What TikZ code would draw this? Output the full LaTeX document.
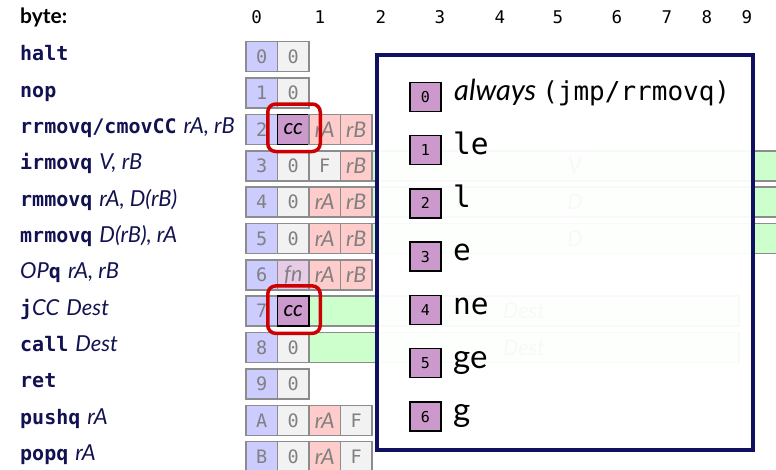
\documentclass[tikz,border=0pt]{standalone}
\usepackage{fontspec}
\setmainfont{Lato}
\setmonofont{DejaVu Sans Mono}
\definecolor{navy}{RGB}{18,18,82}
\definecolor{popnavy}{RGB}{16,16,96}
\definecolor{cblue}{RGB}{204,204,255}
\definecolor{cgray}{RGB}{242,242,242}
\definecolor{cpink}{RGB}{255,204,204}
\definecolor{cgreen}{RGB}{204,255,204}
\definecolor{cpurple}{RGB}{204,153,204}
\definecolor{cfn}{RGB}{230,204,230}
\definecolor{cborder}{RGB}{140,140,140}
\definecolor{ctext}{RGB}{128,128,128}
\definecolor{hred}{RGB}{204,0,0}
\tikzset{
 cell/.style={draw=cborder, line width=1.5pt, minimum width=31.5pt, minimum height=30pt, inner sep=0pt, outer sep=0pt, text=ctext, font=\fontsize{18.5}{22}\selectfont\ttfamily},
 cellit/.style={cell, font=\fontsize{21.5}{25}\selectfont\itshape},
 nb/.style={cell, fill=cblue},
 ng/.style={cell, fill=cgray},
 npk/.style={cellit, fill=cpink},
 ncc/.style={cellit, fill=cpurple, draw=black, text=black},
 nfn/.style={cellit, fill=cfn},
 field/.style={draw=cborder, line width=1.5pt, fill=cgreen, minimum height=30pt, inner sep=0pt, outer sep=0pt, text=ctext, font=\fontsize{21.5}{25}\selectfont\itshape},
 lbl/.style={anchor=base west, inner sep=0pt, text=navy, font=\fontsize{20}{24}\selectfont},
 hdr/.style={anchor=base, inner sep=0pt, font=\fontsize{17.5}{20}\selectfont\ttfamily},
 hl/.style={draw=hred, line width=3.5pt, rounded corners=8pt, inner sep=0pt, minimum width=52.5pt, minimum height=47.5pt},
 popbox/.style={draw=black, line width=1.5pt, fill=cpurple, minimum width=31pt, minimum height=29pt, inner sep=0pt, font=\fontsize{15}{17}\selectfont\ttfamily},
 poptxt/.style={anchor=base west, inner sep=0pt, text=black},
 popup/.style={draw=popnavy, line width=4pt, fill=white, fill opacity=0.95, minimum width=376pt, minimum height=395pt, inner sep=0pt, anchor=north west},
}
\newcommand{\mb}[1]{{\ttfamily\bfseries #1}}
\newcommand{\ops}[1]{{\fontsize{22}{25}\selectfont\itshape #1}}
\begin{document}
\begin{tikzpicture}[x=1pt,y=-1pt]
\useasboundingbox (0,0) rectangle (776,469);
% header
\node[anchor=base west, inner sep=0pt, font=\fontsize{21}{24}\selectfont\bfseries] (byte) at (20,23) {byte:};
\node[hdr] (b0) at (256.7,23.5) {0};
\node[hdr] (b1) at (320,23.5) {1};
\node[hdr] (b2) at (381,23.5) {2};
\node[hdr] (b3) at (440,23.5) {3};
\node[hdr] (b4) at (500,23.5) {4};
\node[hdr] (b5) at (558,23.5) {5};
\node[hdr] (b6) at (617,23.5) {6};
\node[hdr] (b7) at (667,23.5) {7};
\node[hdr] (b8) at (707,23.5) {8};
\node[hdr] (b9) at (747,23.5) {9};
% labels
\node[lbl] (l0) at (20,60.7) {\mb{halt}};
\node[lbl] (l1) at (20,97.1) {\mb{nop}};
\node[lbl] (l2) at (20,133.4) {\mb{rrmovq/cmovCC}\hspace{7pt}\ops{rA, rB}};
\node[lbl] (l3) at (20,169.8) {\mb{irmovq}\hspace{7pt}\ops{V, rB}};
\node[lbl] (l4) at (20,206.1) {\mb{rmmovq}\hspace{7pt}\ops{rA, D(rB)}};
\node[lbl] (l5) at (20,242.5) {\mb{mrmovq}\hspace{7pt}\ops{D(rB), rA}};
\node[lbl] (l6) at (20,278.9) {\ops{OP}\mb{q}\hspace{7pt}\ops{rA, rB}};
\node[lbl] (l7) at (20,315.2) {\mb{j}\ops{CC}\hspace{7pt}\ops{Dest}};
\node[lbl] (l8) at (20,351.6) {\mb{call}\hspace{7pt}\ops{Dest}};
\node[lbl] (l9) at (20,387.9) {\mb{ret}};
\node[lbl] (l10) at (20,424.3) {\mb{pushq}\hspace{7pt}\ops{rA}};
\node[lbl] (l11) at (20,460.7) {\mb{popq}\hspace{7pt}\ops{rA}};
% fields
\node[field, minimum width=406pt] (f3) at (575,165.8) {V};
\node[field, minimum width=406pt] (f4) at (575,202.1) {D};
\node[field, minimum width=406pt] (f5) at (575,238.5) {D};
\node[field, minimum width=430pt] (f7) at (524,311.2) {Dest};
\node[field, minimum width=430pt] (f8) at (524,347.6) {Dest};
% cells
\node[nb] (c00) at (261.75,56.7) {0};
\node[ng] (c01) at (293.25,56.7) {0};
\node[nb] (c10) at (261.75,93.1) {1};
\node[ng] (c11) at (293.25,93.1) {0};
\node[nb] (c20) at (261.75,129.4) {2};
\node[ncc] (c21) at (293.25,129.4) {cc};
\node[npk] (c22) at (324.75,129.4) {rA};
\node[npk] (c23) at (356.25,129.4) {rB};
\node[nb] (c30) at (261.75,165.8) {3};
\node[ng] (c31) at (293.25,165.8) {0};
\node[ng] (c32) at (324.75,165.8) {F};
\node[npk] (c33) at (356.25,165.8) {rB};
\node[nb] (c40) at (261.75,202.1) {4};
\node[ng] (c41) at (293.25,202.1) {0};
\node[npk] (c42) at (324.75,202.1) {rA};
\node[npk] (c43) at (356.25,202.1) {rB};
\node[nb] (c50) at (261.75,238.5) {5};
\node[ng] (c51) at (293.25,238.5) {0};
\node[npk] (c52) at (324.75,238.5) {rA};
\node[npk] (c53) at (356.25,238.5) {rB};
\node[nb] (c60) at (261.75,274.9) {6};
\node[nfn] (c61) at (293.25,274.9) {fn};
\node[npk] (c62) at (324.75,274.9) {rA};
\node[npk] (c63) at (356.25,274.9) {rB};
\node[nb] (c70) at (261.75,311.2) {7};
\node[ncc] (c71) at (293.25,311.2) {cc};
\node[nb] (c80) at (261.75,347.6) {8};
\node[ng] (c81) at (293.25,347.6) {0};
\node[nb] (c90) at (261.75,383.9) {9};
\node[ng] (c91) at (293.25,383.9) {0};
\node[nb] (cA0) at (261.75,420.3) {A};
\node[ng] (cA1) at (293.25,420.3) {0};
\node[npk] (cA2) at (324.75,420.3) {rA};
\node[ng] (cA3) at (356.25,420.3) {F};
\node[nb] (cB0) at (261.75,456.7) {B};
\node[ng] (cB1) at (293.25,456.7) {0};
\node[npk] (cB2) at (324.75,456.7) {rA};
\node[ng] (cB3) at (356.25,456.7) {F};
% highlights
\node[hl] (h2) at (294,127.75) {};
\node[hl] (h7) at (294,309.65) {};
% popup
\node[popup] (popup) at (375,52.5) {};
\node[popbox] (p0) at (425.5,97) {0};
\node[popbox] (p1) at (425.5,150) {1};
\node[popbox] (p2) at (425.5,203.3) {2};
\node[popbox] (p3) at (425.5,256.7) {3};
\node[popbox] (p4) at (425.5,310) {4};
\node[popbox] (p5) at (425.5,363) {5};
\node[popbox] (p6) at (425.5,416.7) {6};
\node[poptxt] (t0) at (454,100.5) {{\fontsize{29}{34}\selectfont\itshape always}\hspace{6pt}{\fontsize{26}{30}\selectfont\ttfamily (jmp/rrmovq)}};
\node[poptxt, font=\fontsize{29.5}{34}\selectfont\ttfamily] (t1) at (453,154) {le};
\node[poptxt, font=\fontsize{29.5}{34}\selectfont\ttfamily] (t2) at (453,207.3) {l};
\node[poptxt, font=\fontsize{29.5}{34}\selectfont\ttfamily] (t3) at (453,260.7) {e};
\node[poptxt, font=\fontsize{29.5}{34}\selectfont\ttfamily] (t4) at (453,314) {ne};
\node[poptxt, font=\fontsize{33}{38}\selectfont] (t5) at (453,368) {ge};
\node[poptxt, font=\fontsize{33}{38}\selectfont] (t6) at (453,421.5) {g};
\end{tikzpicture}
\end{document}
